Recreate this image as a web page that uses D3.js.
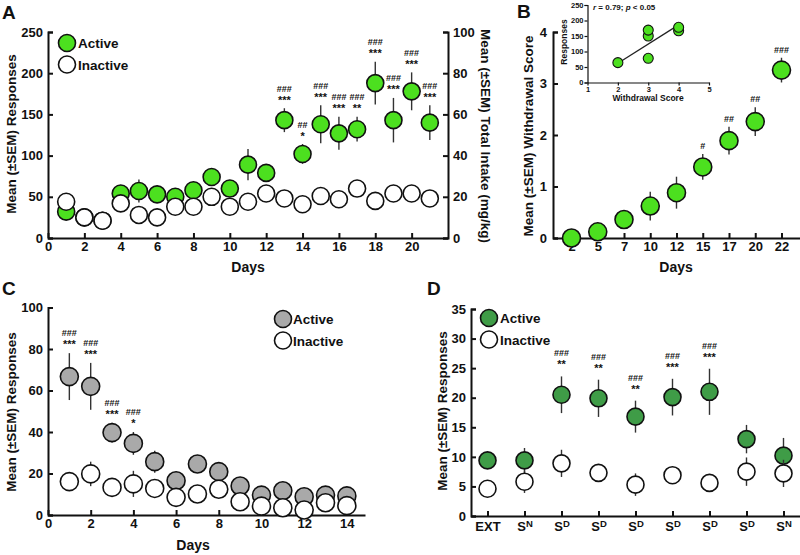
<!DOCTYPE html>
<html><head><meta charset="utf-8">
<script src="https://cdn.jsdelivr.net/npm/d3@7"></script>
<style>
body{margin:0;background:#fff}
text{font-family:"Liberation Sans",Arial,Helvetica,sans-serif;font-weight:bold;fill:#111}
</style></head>
<body><svg id="c" width="800" height="555"></svg>
<script>
// ---------------- DATA ----------------
// Panel A
const daysA = [1,2,3,4,5,6,7,8,9,10,11,12,13,14,15,16,17,18,19,20,21];
const activeA = [32,25,21,54,57,53,50,58,74,60,89,79,143,102,138,127,132,188,143,178,140];
const errActiveA = [3,0,0,3,14,5,5,5,5,6,19,5,14.5,12,23,20,15,26,27,23,21];
const inactiveA = [44,25,21,42,28,25,38,38,50,38,44,54,48,41,51,47,60,45,54,54,48];
const errInactiveA = [0,0,0,0,0,0,0,0,0,0,0,0,0,0,0,0,0,0,0,0,0];
const starsA = ["","","","","","","","","","","","","***","*","***","***","**","***","***","***","***"];
const hashA  = ["","","","","","","","","","","","","###","##","###","###","###","###","###","###","###"];
const xTicksA = [0,2,4,6,8,10,12,14,16,18,20];
const yTicksA = [0,50,100,150,200,250];
const yTicksA2 = [0,20,40,60,80,100];

// Panel B
const daysB = ["2","5","7","10","12","15","17","20","22"];
const scoreB = [0,0.12,0.36,0.62,0.88,1.38,1.89,2.26,3.26];
const errB = [0,0.03,0.05,0.28,0.31,0.25,0.27,0.28,0.24];
const hashB = ["","","","","","#","##","##","###"];
const yTicksB = [0,1,2,3,4];
// Inset of B
const insetX = [2,3,3,3,4,4];
const insetY = [64,78,150,169,167,178];
const fitX = [2,4];
const fitY = [62,186];
const insetXTicks = [1,2,3,4,5];
const insetYTicks = [0,50,100,150,200,250];

// Panel C
const daysC = [1,2,3,4,5,6,7,8,9,10,11,12,13,14];
const activeC = [66.7,62,39.7,34.5,25.7,16.5,24.6,20.9,14,9.6,11.7,8.8,9.6,9.2];
const errActiveC = [11.3,11.3,4.8,5.5,5.3,2,1,1,1.5,1,1,1,1,1];
const inactiveC = [16.1,19.8,13.3,15,12.8,8.5,10.1,12.4,6.4,4.3,3.5,2.4,5.9,4.5];
const errInactiveC = [1,5.9,1,6.3,2,1,1,1,1,1,1,1,1,1];
const starsC = ["***","***","***","*","","","","","","","","","",""];
const hashC  = ["###","###","###","###","","","","","","","","","",""];
const xTicksC = [0,2,4,6,8,10,12,14];
const yTicksC = [0,20,40,60,80,100];

// Panel D
const sessD = [0,1,2,3,4,5,6,7,8];
const tickBaseD = ["EXT","S","S","S","S","S","S","S","S"];
const tickSupD  = ["","N","D","D","D","D","D","D","N"];
const activeD = [9.4,9.4,20.5,19.9,16.8,20.1,21,13,10.2];
const errActiveD = [0.5,2.1,3.1,3.15,2.7,3.1,3.9,2.4,3];
const inactiveD = [4.6,5.8,8.9,7.3,5.3,6.9,5.6,7.5,7.2];
const errInactiveD = [0.5,1.9,2.3,0.8,1.9,0.8,0.6,2.4,2.3];
const starsD = ["","","**","**","**","***","***","",""];
const hashD  = ["","","###","###","###","###","###","",""];
const yTicksD = [0,5,10,15,20,25,30,35];

const legendLabels = ["Active","Inactive"];

// ---------------- DRAWING ----------------
const svg = d3.select("#c");
const GREEN_A = "#4ce01f", GREY_C = "#a9a9a9", GREEN_D = "#3f9c47";

function styleAxis(g, fs){
  g.selectAll("path,line").attr("stroke","#111").attr("stroke-width",2);
  g.selectAll("text").attr("font-size",fs).attr("fill","#111").attr("font-family",null);
}
function series(g, xs, ys, es, xs_, ys_, fill, r){
  const d = xs.map((x,i)=>({x, y:ys[i], e:es[i]}));
  g.append("g").selectAll("line").data(d.filter(v=>v.e>0)).join("line")
    .attr("x1",v=>xs_(v.x)).attr("x2",v=>xs_(v.x))
    .attr("y1",v=>ys_(v.y-v.e)).attr("y2",v=>ys_(v.y+v.e))
    .attr("stroke","#333").attr("stroke-width",1.4);
  g.append("g").selectAll("circle").data(d).join("circle")
    .attr("cx",v=>xs_(v.x)).attr("cy",v=>ys_(v.y)).attr("r",r)
    .attr("fill",fill).attr("stroke","#111").attr("stroke-width",1.6);
}
function annot(g, xs, ys, es, stars, hashes, xs_, ys_, off, gap){
  xs.forEach((x,i)=>{
    const top = ys_(ys[i]+es[i]) - off;
    if(stars && stars[i]) g.append("text").attr("x",xs_(x)).attr("y",top).attr("text-anchor","middle")
      .attr("font-size",11).text(stars[i]);
    if(hashes[i]) g.append("text").attr("x",xs_(x)).attr("y",stars&&stars[i]?top-gap:top)
      .attr("text-anchor","middle").attr("font-size",9).attr("font-weight","normal").attr("fill","#333").text(hashes[i]);
  });
}
function legend(g, x, y0, fill, tx){
  legendLabels.forEach((l,i)=>{
    const y = y0 + i*21.5;
    g.append("circle").attr("cx",x).attr("cy",y).attr("r",8.5)
      .attr("fill", i===0?fill:"#fff").attr("stroke","#111").attr("stroke-width",1.6);
    g.append("text").attr("x",tx).attr("y",y+5).attr("font-size",13.5).text(l);
  });
}
function panelLetter(t,x,y){ svg.append("text").attr("x",x).attr("y",y).attr("font-size",19).text(t); }
function yTitle(t, x, y, rot){
  svg.append("text").attr("transform",`translate(${x},${y}) rotate(${rot})`)
    .attr("text-anchor","middle").attr("font-size",13.5).text(t);
}

// ===== Panel A =====
{
  const x = d3.scaleLinear().domain([0,22]).range([48,448]);
  const y = d3.scaleLinear().domain([0,250]).range([238,32]);
  const y2 = d3.scaleLinear().domain([0,100]).range([238,32]);
  const g = svg.append("g");
  styleAxis(g.append("g").attr("transform","translate(0,238)")
    .call(d3.axisBottom(x).tickValues(xTicksA).tickSize(-5).tickSizeOuter(0).tickPadding(4)),13);
  styleAxis(g.append("g").attr("transform","translate(48,0)")
    .call(d3.axisLeft(y).tickValues(yTicksA).tickSize(-5).tickSizeOuter(-5).tickPadding(5)),13);
  styleAxis(g.append("g").attr("transform","translate(448,0)")
    .call(d3.axisRight(y2).tickValues(yTicksA2).tickSize(-5).tickSizeOuter(-5).tickPadding(5)),13);
  series(g, daysA, activeA, errActiveA, x, y, GREEN_A, 8.5);
  series(g, daysA, inactiveA, errInactiveA, x, y, "#fff", 8.5);
  annot(g, daysA, activeA, errActiveA, starsA, hashA, x, y, 4.5, 12);
  legend(g, 67, 43, GREEN_A, 78);
  g.append("text").attr("x",248).attr("y",272).attr("text-anchor","middle").attr("font-size",14).text("Days");
  yTitle("Mean (±SEM) Responses", 16, 134, -90);
  yTitle("Mean (±SEM) Total Intake (mg/kg)", 481, 136, 90);
  panelLetter("A", 2, 19);
}

// ===== Panel B =====
{
  const x = d3.scalePoint().domain(daysB).range([553,800]).padding(0.705);
  const y = d3.scaleLinear().domain([0,4]).range([238,32]);
  const g = svg.append("g");
  styleAxis(g.append("g").attr("transform","translate(0,238)")
    .call(d3.axisBottom(x).tickSize(-5).tickSizeOuter(0).tickPadding(4)),13);
  styleAxis(g.append("g").attr("transform","translate(553,0)")
    .call(d3.axisLeft(y).tickValues(yTicksB).tickFormat(d3.format("d")).tickSize(-5).tickSizeOuter(-5).tickPadding(6)),13);
  series(g, daysB, scoreB, errB, x, y, GREEN_A, 9);
  annot(g, daysB, scoreB, errB, null, hashB, x, y, 5, 12);
  g.append("text").attr("x",676).attr("y",272).attr("text-anchor","middle").attr("font-size",14).text("Days");
  yTitle("Mean (±SEM) Withdrawal Score", 533, 136, -90);
  panelLetter("B", 517, 18);

  // inset
  const ix = d3.scaleLinear().domain([1,5]).range([587.5,709]);
  const iy = d3.scaleLinear().domain([0,250]).range([82.5,5]);
  const ig = svg.append("g");
  const ax1 = ig.append("g").attr("transform","translate(0,82.5)")
    .call(d3.axisBottom(ix).tickValues(insetXTicks).tickFormat(d3.format("d")).tickSize(3).tickSizeOuter(0).tickPadding(1));
  const ax2 = ig.append("g").attr("transform","translate(587.5,0)")
    .call(d3.axisLeft(iy).tickValues(insetYTicks).tickFormat(d3.format("d")).tickSize(3).tickSizeOuter(3).tickPadding(1));
  [ax1,ax2].forEach(a=>{
    a.selectAll("path,line").attr("stroke","#111").attr("stroke-width",1.2);
    a.selectAll("text").attr("font-size",7.5).attr("fill","#111").attr("font-family",null);
  });
  ig.append("line").attr("x1",ix(fitX[0])).attr("y1",iy(fitY[0])).attr("x2",ix(fitX[1])).attr("y2",iy(fitY[1]))
    .attr("stroke","#222").attr("stroke-width",1.3);
  ig.selectAll("circle.i").data(insetX.map((v,i)=>[v,insetY[i]])).join("circle")
    .attr("cx",d=>ix(d[0])).attr("cy",d=>iy(d[1])).attr("r",5)
    .attr("fill",GREEN_A).attr("stroke","#111").attr("stroke-width",1.1);
  const rt = ig.append("text").attr("x",593).attr("y",10).attr("font-size",8);
  rt.append("tspan").attr("font-style","italic").text("r");
  rt.append("tspan").text(" = 0.79; ");
  rt.append("tspan").attr("font-style","italic").text("p");
  rt.append("tspan").text(" < 0.05");
  ig.append("text").attr("x",648).attr("y",101).attr("text-anchor","middle").attr("font-size",8.5).text("Withdrawal Score");
  ig.append("text").attr("transform","translate(567,42) rotate(-90)").attr("text-anchor","middle").attr("font-size",8.5).text("Responses");
}

// ===== Panel C =====
{
  const x = d3.scaleLinear().domain([0,14.85]).range([48,365]);
  const y = d3.scaleLinear().domain([0,100]).range([515,307.5]);
  const g = svg.append("g");
  styleAxis(g.append("g").attr("transform","translate(0,515)")
    .call(d3.axisBottom(x).tickValues(xTicksC).tickSize(-5).tickSizeOuter(0).tickPadding(4)),13);
  styleAxis(g.append("g").attr("transform","translate(48,0)")
    .call(d3.axisLeft(y).tickValues(yTicksC).tickSize(-5).tickSizeOuter(-5).tickPadding(5)),13);
  series(g, daysC, activeC, errActiveC, x, y, GREY_C, 9);
  series(g, daysC, inactiveC, errInactiveC, x, y, "#fff", 9);
  annot(g, daysC, activeC, errActiveC, starsC, hashC, x, y, 5, 12);
  legend(g, 283, 319, GREY_C, 293);
  g.append("text").attr("x",193).attr("y",550).attr("text-anchor","middle").attr("font-size",14).text("Days");
  yTitle("Mean (±SEM) Responses", 16, 412, -90);
  panelLetter("C", 2, 295);
}

// ===== Panel D =====
{
  const x = d3.scalePoint().domain(sessD).range([471,800]).padding(0.446);
  const y = d3.scaleLinear().domain([0,35]).range([516,309]);
  const g = svg.append("g");
  const xa = g.append("g").attr("transform","translate(0,516)")
    .call(d3.axisBottom(x).tickSize(-5).tickSizeOuter(0).tickPadding(6).tickFormat(()=>""));
  styleAxis(xa,13);
  xa.selectAll(".tick text").each(function(d){
    const t = d3.select(this);
    t.append("tspan").text(tickBaseD[d]);
    if(tickSupD[d]) t.append("tspan").attr("font-size",9.5).attr("dy","-0.45em").text(tickSupD[d]);
  });
  styleAxis(g.append("g").attr("transform","translate(471,0)")
    .call(d3.axisLeft(y).tickValues(yTicksD).tickSize(-5).tickSizeOuter(-5).tickPadding(5)),13);
  series(g, sessD, activeD, errActiveD, x, y, GREEN_D, 8.5);
  series(g, sessD, inactiveD, errInactiveD, x, y, "#fff", 8.5);
  annot(g, sessD, activeD, errActiveD, starsD, hashD, x, y, 8, 12);
  legend(g, 489, 318, GREEN_D, 500);
  yTitle("Mean (±SEM) Responses", 447, 411, -90);
  panelLetter("D", 427, 295);
}
</script></body></html>
